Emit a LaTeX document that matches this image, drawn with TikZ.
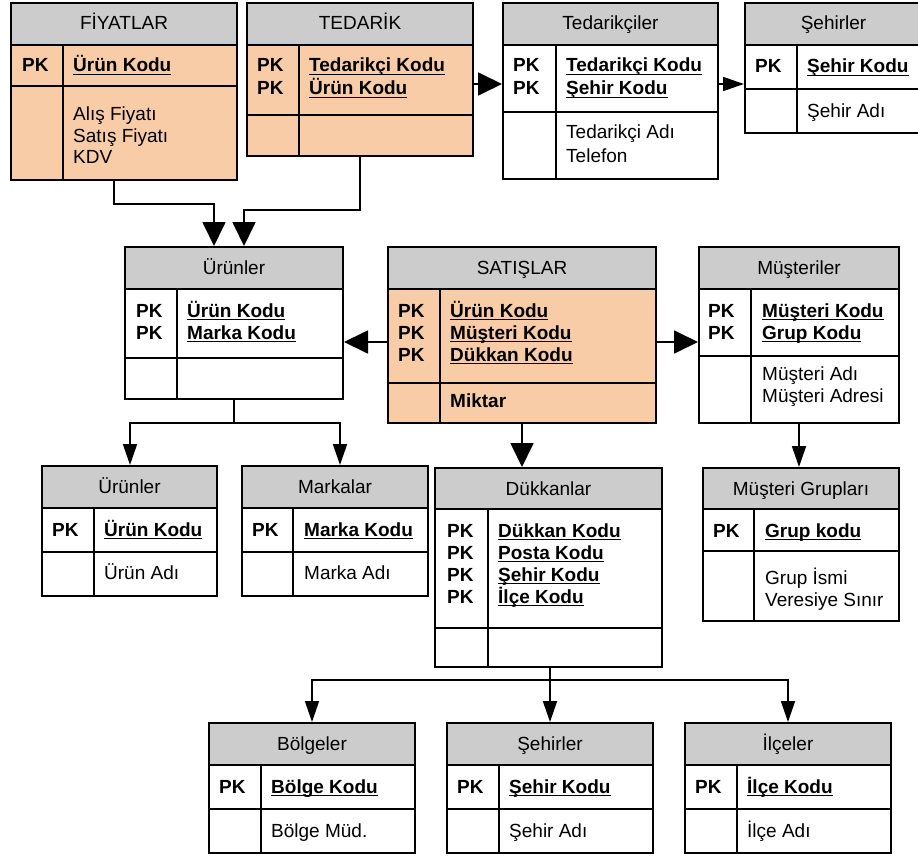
\documentclass[tikz,border=0pt]{standalone}
\usepackage{fontspec}
\setmainfont{Liberation Sans}
\usetikzlibrary{arrows.meta}
\definecolor{hdrgray}{RGB}{204,204,204}
\definecolor{peach}{RGB}{249,204,168}
% underlined primary-key text at a fixed depth below the baseline
\newcommand{\ulkey}[1]{\setbox0=\hbox{#1}\rlap{\rule[-3pt]{\wd0}{1.3pt}}\box0}
% entity box: name, x1, y1, x2, y2, header bottom, key-row bottom, column divider, body fill
\newcommand{\erbox}[9]{%
  \fill[#9] (#2,#6) rectangle (#4,#5);
  \fill[hdrgray] (#2,#3) rectangle (#4,#6);
  \draw[rowline] (#2,#6) -- (#4,#6) (#2,#7) -- (#4,#7) (#8,#6) -- (#8,#5);
  \node[entbox, minimum width={(#4-#2)*1pt}, minimum height={(#5-#3)*1pt}] (#1) at (#2,#3) {};
}
\newcommand{\ttl}[4]{\node[ttlstyle] (#1) at (#2,#3) {#4};}
\newcommand{\pkey}[3]{\node[pkstyle] (#1) at (#2,#3) {PK};}
\newcommand{\kfld}[4]{\node[keystyle] (#1) at (#2,#3) {\ulkey{#4}};}
\newcommand{\afld}[4]{\node[attrstyle] (#1) at (#2,#3) {#4};}
\begin{document}
\begin{tikzpicture}[x=1pt,y=-1pt,
  rowline/.style={line width=1.8pt},
  entbox/.style={draw, line width=1.8pt, inner sep=0pt, outer sep=0pt, anchor=north west},
  txt/.style={inner sep=0pt, font=\fontsize{19pt}{22pt}\selectfont},
  ttlstyle/.style={txt, anchor=base},
  pkstyle/.style={txt, anchor=base west, font=\fontsize{19pt}{22pt}\selectfont\bfseries},
  keystyle/.style={txt, anchor=base west, font=\fontsize{19pt}{22pt}\selectfont\bfseries},
  attrstyle/.style={txt, anchor=base west},
  link/.style={line width=1.8pt},
  bigtip/.style={link, -{Triangle[length=24pt,width=23pt]}, shorten >=1pt},
  smalltip/.style={link, -{Triangle[length=21pt,width=14pt]}, shorten >=1pt}]
\useasboundingbox (0,0) rectangle (918,856);
\clip (0,0) rectangle (918,856);

% ---- top row ----
\erbox{fiy}{11}{3}{237}{180}{45}{86}{63}{peach}
\ttl{fiy-t}{124}{30}{FİYATLAR}
\pkey{fiy-p1}{22}{72}
\kfld{fiy-k1}{73}{72}{Ürün Kodu}
\afld{fiy-a1}{73}{121}{Alış Fiyatı}
\afld{fiy-a2}{73}{142.5}{Satış Fiyatı}
\afld{fiy-a3}{73}{164}{KDV}

\erbox{ted}{247}{3}{473}{156}{45}{115}{299}{peach}
\ttl{ted-t}{360}{30}{TEDARİK}
\pkey{ted-p1}{257}{72}
\pkey{ted-p2}{257}{95}
\kfld{ted-k1}{309}{72}{Tedarikçi Kodu}
\kfld{ted-k2}{309}{95}{Ürün Kodu}

\erbox{tdk}{503}{3}{718}{179}{45}{112}{556}{white}
\ttl{tdk-t}{610.5}{30}{Tedarikçiler}
\pkey{tdk-p1}{513}{72}
\pkey{tdk-p2}{513}{95}
\kfld{tdk-k1}{566}{72}{Tedarikçi Kodu}
\kfld{tdk-k2}{566}{95}{Şehir Kodu}
\afld{tdk-a1}{566}{139}{Tedarikçi Adı}
\afld{tdk-a2}{566}{162}{Telefon}

\erbox{seh1}{745}{3}{922}{133}{45}{89}{797}{white}
\ttl{seh1-t}{833.5}{30}{Şehirler}
\pkey{seh1-p1}{755}{73}
\kfld{seh1-k1}{807}{73}{Şehir Kodu}
\afld{seh1-a1}{807}{118}{Şehir Adı}

% ---- middle row ----
\erbox{urn}{125}{247}{343}{399}{289}{358}{177}{white}
\ttl{urn-t}{234}{274}{Ürünler}
\pkey{urn-p1}{136}{317}
\pkey{urn-p2}{136}{339}
\kfld{urn-k1}{187}{317}{Ürün Kodu}
\kfld{urn-k2}{187}{339}{Marka Kodu}

\erbox{sat}{388}{247}{656}{423}{289}{383}{440}{peach}
\ttl{sat-t}{522}{274}{SATIŞLAR}
\pkey{sat-p1}{398}{317}
\pkey{sat-p2}{398}{339}
\pkey{sat-p3}{398}{361}
\kfld{sat-k1}{450}{317}{Ürün Kodu}
\kfld{sat-k2}{450}{339}{Müşteri Kodu}
\kfld{sat-k3}{450}{361}{Dükkan Kodu}
\node[keystyle] (sat-a1) at (450,407) {Miktar};

\erbox{mus}{699}{247}{899}{423}{289}{356}{751}{white}
\ttl{mus-t}{799}{274}{Müşteriler}
\pkey{mus-p1}{708}{317}
\pkey{mus-p2}{708}{339}
\kfld{mus-k1}{762}{317}{Müşteri Kodu}
\kfld{mus-k2}{762}{339}{Grup Kodu}
\afld{mus-a1}{762}{380}{Müşteri Adı}
\afld{mus-a2}{762}{402}{Müşteri Adresi}

% ---- lower row ----
\erbox{urn2}{42}{466}{217}{596}{508}{552}{94}{white}
\ttl{urn2-t}{129.5}{493}{Ürünler}
\pkey{urn2-p1}{52}{536}
\kfld{urn2-k1}{104}{536}{Ürün Kodu}
\afld{urn2-a1}{104}{579}{Ürün Adı}

\erbox{mrk}{242}{466}{428}{596}{508}{552}{293}{white}
\ttl{mrk-t}{335}{493}{Markalar}
\pkey{mrk-p1}{252}{536}
\kfld{mrk-k1}{304}{536}{Marka Kodu}
\afld{mrk-a1}{304}{579}{Marka Adı}

\erbox{dkk}{435}{468}{662}{667}{509}{628}{488}{white}
\ttl{dkk-t}{548.5}{495}{Dükkanlar}
\pkey{dkk-p1}{447}{537}
\pkey{dkk-p2}{447}{559}
\pkey{dkk-p3}{447}{581}
\pkey{dkk-p4}{447}{603}
\kfld{dkk-k1}{498}{537}{Dükkan Kodu}
\kfld{dkk-k2}{498}{559}{Posta Kodu}
\kfld{dkk-k3}{498}{581}{Şehir Kodu}
\kfld{dkk-k4}{498}{603}{İlçe Kodu}

\erbox{mgr}{703}{468}{899}{621}{509}{551}{754}{white}
\ttl{mgr-t}{801}{495}{Müşteri Grupları}
\pkey{mgr-p1}{713}{537}
\kfld{mgr-k1}{765}{537}{Grup kodu}
\afld{mgr-a1}{765}{584}{Grup İsmi}
\afld{mgr-a2}{765}{606}{Veresiye Sınır}

% ---- bottom row ----
\erbox{blg}{209}{723}{415}{853}{765}{809}{261}{white}
\ttl{blg-t}{312}{750}{Bölgeler}
\pkey{blg-p1}{219}{793}
\kfld{blg-k1}{271}{793}{Bölge Kodu}
\afld{blg-a1}{271}{837}{Bölge Müd.}

\erbox{seh2}{447}{723}{653}{853}{765}{809}{499}{white}
\ttl{seh2-t}{550}{750}{Şehirler}
\pkey{seh2-p1}{457}{793}
\kfld{seh2-k1}{509}{793}{Şehir Kodu}
\afld{seh2-a1}{509}{837}{Şehir Adı}

\erbox{ilc}{685}{723}{891}{853}{765}{809}{737}{white}
\ttl{ilc-t}{788}{750}{İlçeler}
\pkey{ilc-p1}{695}{793}
\kfld{ilc-k1}{747}{793}{İlçe Kodu}
\afld{ilc-a1}{747}{837}{İlçe Adı}

% ---- connectors ----
\coordinate (fbend) at (114,204);
\coordinate (fdrop) at (214,204);
\coordinate (tdrop) at (244,210);
\coordinate (row1) at (0,84);
\coordinate (row2) at (0,342);
\coordinate (usplitA) at (130,423);
\coordinate (usplitB) at (340,423);
\coordinate (dsplit) at (550,680);

\draw[bigtip] (fiy.south -| fbend) |- (fdrop) -- (urn.north -| fdrop);
\draw[bigtip] (ted.south) |- (tdrop) -- (urn.north -| tdrop);
\draw[bigtip] (ted.east |- row1) -- (tdk.west |- row1);
\draw[smalltip] (tdk.east |- row1) -- (seh1.west |- row1);
\draw[bigtip] (sat.west |- row2) -- (urn.east |- row2);
\draw[bigtip] (sat.east |- row2) -- (mus.west |- row2);
\draw[bigtip] (sat.south) -- (dkk.north -| sat.south);
\draw[smalltip] (urn.south) |- (usplitA) -- (urn2.north -| usplitA);
\draw[smalltip] (urn.south) |- (usplitB) -- (mrk.north -| usplitB);
\draw[smalltip] (mus.south) -- (mgr.north -| mus.south);
\draw[link] (dkk.south -| dsplit) -- (dsplit);
\draw[smalltip] (dsplit) -| (blg.north);
\draw[smalltip] (dsplit) -- (seh2.north -| dsplit);
\draw[smalltip] (dsplit) -| (ilc.north);
\end{tikzpicture}
\end{document}
